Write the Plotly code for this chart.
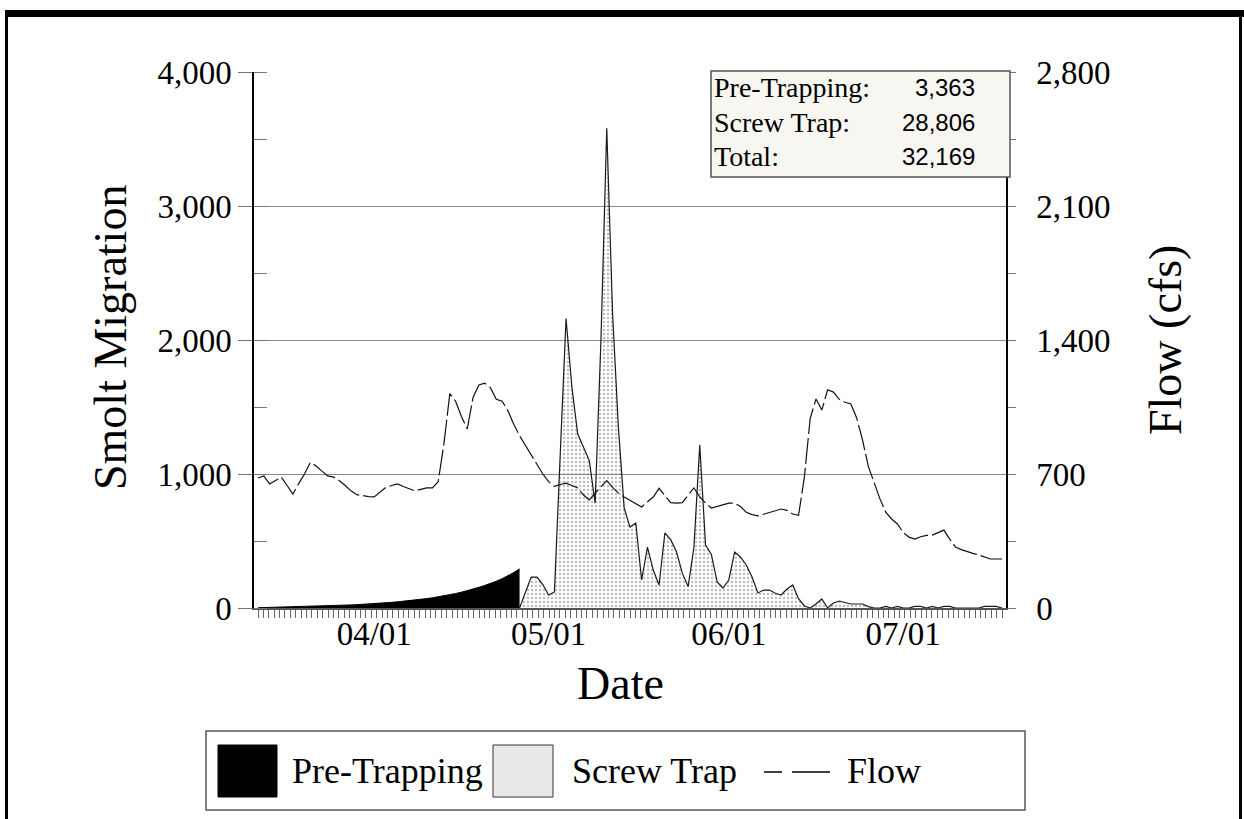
import pandas as pd
import plotly.graph_objects as go

# ---- data -------------------------------------------------------------
start_date = "2003-03-12"
n_days = 129

# daily river flow (cfs), 03/12 .. 07/18
flow_cfs = [
    679, 690, 648, 665, 684, 640, 595, 650, 700, 760,
    742, 715, 690, 684, 665, 640, 612, 592, 585, 582,
    580, 605, 630, 640, 648, 635, 622, 612, 620, 627,
    627, 660, 860, 1120, 1080, 1000, 935, 1100, 1165, 1175,
    1150, 1090, 1080, 1030, 960, 900, 850, 800, 757, 700,
    660, 635, 645, 652, 640, 627, 590, 565, 600, 630,
    665, 630, 600, 580, 564, 545, 528, 555, 580, 625,
    590, 550, 548, 550, 590, 627, 580, 548, 522, 530,
    540, 548, 548, 530, 500, 488, 481, 490, 501, 508,
    517, 510, 491, 484, 684, 990, 1092, 1034, 1140, 1128,
    1090, 1075, 1066, 993, 878, 740, 650, 570, 501, 465,
    439, 395, 370, 360, 372, 379, 381, 395, 407, 360,
    319, 305, 293, 285, 277, 265, 256, 256, 256,
]

# estimated daily migration before the trap was installed (03/12 .. 04/26)
pre_trapping = [
    2, 3, 4, 5, 6, 7, 8, 9, 11, 12,
    12, 14, 15, 17, 19, 21, 23, 25, 27, 30,
    32, 35, 38, 42, 46, 50, 54, 59, 64, 70,
    76, 83, 91, 99, 108, 118, 129, 141, 154, 168,
    183, 200, 219, 240, 264, 292,
]

# daily screw trap catch (04/26 .. 07/18)
screw_trap = [
    0, 120, 231, 231, 175, 97, 120, 1150, 2160, 1650,
    1300, 1200, 1100, 783, 2000, 3580, 2200, 1350, 746, 604,
    634, 209, 455, 283, 172, 560, 510, 420, 260, 160,
    455, 1216, 470, 400, 194, 149, 209, 418, 381, 321,
    231, 112, 134, 134, 110, 97, 142, 172, 70, 15,
    0, 30, 67, 0, 37, 52, 40, 30, 30, 30,
    10, 0, 0, 12, 0, 12, 0, 0, 12, 12,
    0, 12, 0, 12, 12, 0, 0, 0, 0, 0,
    12, 12, 12, 0,
]

summary_labels = ["Pre-Trapping:", "Screw Trap:", "Total:"]
summary_values = ["3,363", "28,806", "32,169"]

month_ticks = ["2003-04-01", "2003-05-01", "2003-06-01", "2003-07-01"]

# ---- figure geometry (pixels) -----------------------------------------
W, H = 1244, 819
PL, PR, PT, PB = 254, 1006, 72, 608


def fx(px):
    return (px - PL) / (PR - PL)


def fy(py):
    return (PB - py) / (PB - PT)


SERIF = "Liberation Serif"
SANS = "Liberation Sans"

days = pd.date_range(start_date, periods=n_days, freq="D")
pre_dates = days[: len(pre_trapping)]
screw_dates = days[len(pre_trapping) - 1:]

x_lo = days[0] - pd.Timedelta(hours=16.5)
x_hi = days[-1] + pd.Timedelta(hours=16.5)
minor_step = (days[-1] - days[0]).total_seconds() * 1000 / 138

fig = go.Figure()

fig.add_trace(go.Scatter(
    x=screw_dates, y=screw_trap, name="Screw Trap", mode="lines",
    fill="tozeroy",
    fillpattern=dict(shape=".", size=4, solidity=0.3,
                     fgcolor="#7a7a7a", bgcolor="rgba(0,0,0,0)"),
    line=dict(color="#1a1a1a", width=1.2),
    showlegend=False,
))

fig.add_trace(go.Scatter(
    x=pre_dates, y=pre_trapping, name="Pre-Trapping", mode="lines",
    fill="tozeroy", fillcolor="black",
    line=dict(color="black", width=1),
    showlegend=False,
))

fig.add_trace(go.Scatter(
    x=days, y=flow_cfs, name="Flow", mode="lines", yaxis="y2",
    line=dict(color="#111", width=1.2, dash="26px,4px"),
    showlegend=False,
))

tick_font = dict(family=SERIF, size=33, color="black")

fig.update_layout(
    width=W, height=H,
    margin=dict(l=PL, r=W - PR, t=PT, b=H - PB),
    paper_bgcolor="white", plot_bgcolor="white",
    showlegend=False,
    xaxis=dict(
        type="date", range=[x_lo, x_hi],
        tickmode="array", tickvals=month_ticks, tickformat="%m/%d",
        ticks="", ticklabelstandoff=-4,
        tickfont=tick_font,
        showline=True, linecolor="#555", linewidth=1.5,
        showgrid=False, zeroline=False,
        minor=dict(ticks="outside", ticklen=8, tickwidth=1, tickcolor="#666",
                   tick0=days[0], dtick=minor_step, showgrid=False),
    ),
    yaxis=dict(
        range=[0, 4000], tickmode="linear", tick0=0, dtick=1000,
        tickformat=",", tickfont=tick_font,
        ticks="outside", ticklen=14, tickcolor="#777",
        showline=True, linecolor="black", linewidth=1.5,
        showgrid=True, gridcolor="#8a8a8a", gridwidth=1, zeroline=False,
        minor=dict(ticks="inside", ticklen=13, tickcolor="#777",
                   dtick=500, showgrid=False),
    ),
    yaxis2=dict(
        overlaying="y", side="right",
        range=[0, 2800], tickmode="linear", tick0=0, dtick=700,
        tickformat=",", tickfont=tick_font,
        ticks="outside", ticklen=8, tickcolor="#777", ticklabelstandoff=14,
        showline=True, linecolor="black", linewidth=1.5,
        showgrid=False, zeroline=False,
        minor=dict(ticks="outside", ticklen=8, tickcolor="#777",
                   dtick=350, showgrid=False),
    ),
    yaxis3=dict(
        overlaying="y", side="right",
        range=[0, 2800], tickmode="linear", tick0=0, dtick=700,
        showticklabels=False,
        ticks="inside", ticklen=9, tickcolor="#777",
        showline=False, showgrid=False, zeroline=False,
        minor=dict(ticks="inside", ticklen=9, tickcolor="#777",
                   dtick=350, showgrid=False),
    ),
)

shapes = []
annotations = []


def rect(x0, y0, x1, y1, **kw):
    shapes.append(dict(type="rect", xref="paper", yref="paper",
                       x0=fx(x0), x1=fx(x1), y0=fy(y0), y1=fy(y1), **kw))


def text(px, py, s, size, family=SERIF, xanchor="left", angle=0):
    annotations.append(dict(
        xref="paper", yref="paper", x=fx(px), y=fy(py), text=s,
        showarrow=False, xanchor=xanchor, yanchor="middle",
        textangle=angle, font=dict(family=family, size=size, color="black"),
    ))


# outer frame
rect(5, 10, W + 2, 17, fillcolor="black", line=dict(width=0))
rect(5, 10, 8, H + 2, fillcolor="black", line=dict(width=0))
rect(1239, 10, 1242, H + 2, fillcolor="black", line=dict(width=0))

# axis titles
text(110, 338, "Smolt Migration", 46, xanchor="center", angle=-90)
text(1165, 340, "Flow (cfs)", 46, xanchor="center", angle=-90)
text(620, 683, "Date", 46, xanchor="center")

# summary box
rect(711, 71, 1010, 177, fillcolor="#f7f6f1", line=dict(color="#555", width=1.5))
for i, (lab, val) in enumerate(zip(summary_labels, summary_values)):
    yy = 88 + i * 34
    text(712, yy, lab, 28)
    text(977, yy, val, 24, family=SANS, xanchor="right")

# legend
rect(206, 731, 1025, 810, fillcolor="white", line=dict(color="#555", width=1.5))
rect(218, 745, 277, 797, fillcolor="black", line=dict(color="black", width=1))
text(290, 771, "Pre-Trapping", 36)
rect(493, 745, 553, 797, fillcolor="#e9e9e9", line=dict(color="#333", width=1))
text(570, 771, "Screw Trap", 36)
for a, b in [(764, 782), (792, 830)]:
    shapes.append(dict(type="line", xref="paper", yref="paper",
                       x0=fx(a), x1=fx(b), y0=fy(772), y1=fy(772),
                       line=dict(color="black", width=1.5)))
text(845, 771, "Flow", 36)

fig.update_layout(shapes=shapes, annotations=annotations)

fig.write_html("out.html")
